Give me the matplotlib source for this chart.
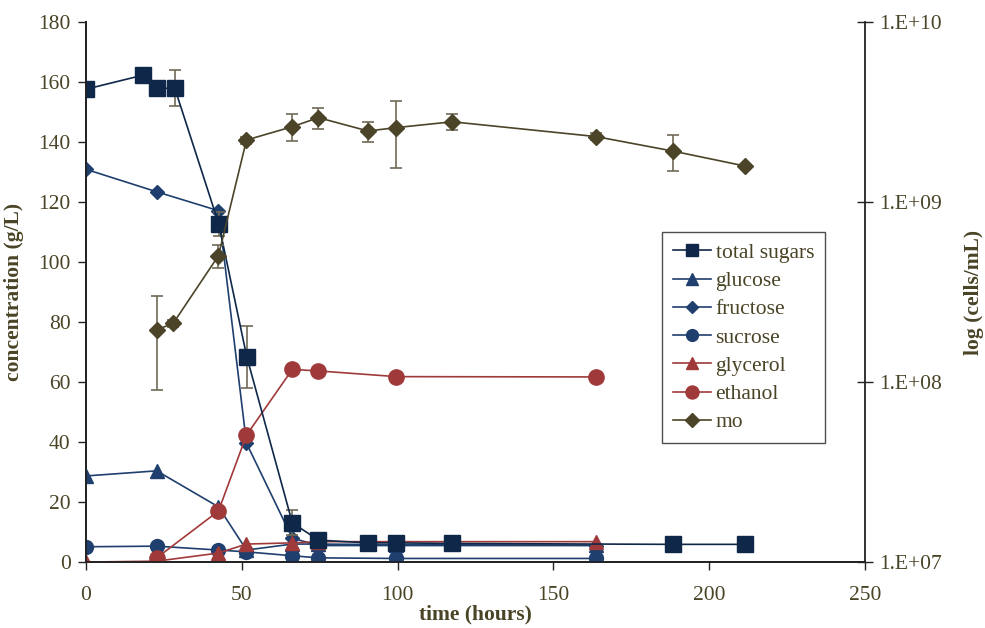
import math
import matplotlib
matplotlib.use("Agg")
import matplotlib.pyplot as plt
from matplotlib.ticker import FixedLocator, FuncFormatter, NullLocator

plt.rcParams["font.family"] = ["Liberation Serif", "DejaVu Serif"]

# sampling times (hours)
t_sugar = [0, 18.4, 22.7, 28.5, 42.6, 51.6, 66.2, 74.6, 90.5, 99.6, 117.5, 188.2, 211.4]
total_sugars = [157.6, 162.3, 157.9, 157.9, 112.7, 68.4, 13.1, 7.3, 6.4, 6.4, 6.2, 5.9, 5.9]
total_sugars_err = [0, 0, 0, 6.0, 4.0, 10.3, 4.2, 0, 0, 0, 0, 0, 0]

t_main = [0, 22.7, 42.5, 51.5, 66.2, 74.6, 99.6, 163.6]
glucose = [28.7, 30.4, 18.4, 4.0, 6.0, 6.0, 5.8, 5.6]
fructose = [130.9, 123.4, 117.1, 39.6, 8.0, 5.5, 5.5, 5.5]
sucrose = [5.1, 5.3, 4.0, 3.4, 2.1, 1.4, 1.2, 1.2]
glycerol = [0.0, 0.3, 3.0, 6.0, 6.4, 6.8, 6.8, 6.8]

t_ethanol = [22.7, 42.5, 51.5, 66.2, 74.6, 99.6, 163.6]
ethanol = [1.4, 17.0, 42.3, 64.2, 63.7, 61.8, 61.7]

# microorganism counts (cells/mL)
t_mo = [22.7, 28.0, 42.5, 51.5, 66.2, 74.6, 90.5, 99.6, 117.5, 163.6, 188.2, 211.4]
mo = [1.95e8, 2.12e8, 5.03e8, 2.21e9, 2.62e9, 2.94e9, 2.48e9, 2.59e9, 2.79e9, 2.31e9, 1.92e9, 1.585e9]
mo_err = [1.05e8, 1.0e7, 7.5e7, 1.0e8, 4.5e8, 3.9e8, 3.2e8, 1.05e9, 2.8e8, 1.0e8, 4.3e8, 0]

text_col = "#4a4426"
navy = "#0f2748"
blue = "#1f3f6e"
red = "#a03a3a"
olive = "#4b4429"
err_col = "#706a55"

fig = plt.figure(figsize=(9.85, 6.28), dpi=100)
ax = fig.add_axes([0.0873, 0.105, 0.7910, 0.860])
ax2 = ax.twinx()

sugars = ax.errorbar(t_sugar, total_sugars, yerr=total_sugars_err, color=navy, ecolor=err_col,
                     elinewidth=1.2, capsize=4, capthick=1.2, lw=1.2, marker="s", ms=11,
                     zorder=5)
l_glu, = ax.plot(t_main, glucose, color=blue, lw=1.2, marker="^", ms=10, zorder=4)
l_fru, = ax.plot(t_main, fructose, color=blue, lw=1.2, marker="D", ms=7, zorder=4)
l_suc, = ax.plot(t_main, sucrose, color=blue, lw=1.2, marker="o", ms=10, zorder=4)
l_gly, = ax.plot(t_main, glycerol, color=red, lw=1.2, marker="^", ms=10, zorder=4)
l_eth, = ax.plot(t_ethanol, ethanol, color=red, lw=1.2, marker="o", ms=11, zorder=4)

mo_line = ax2.errorbar(t_mo, mo, yerr=mo_err, color=olive, ecolor=err_col,
                       elinewidth=1.2, capsize=4, capthick=1.2, lw=1.2, marker="D", ms=8)

ax.set_xlim(0, 250)
ax.set_ylim(0, 180)
ax.set_xticks(range(0, 251, 50))
ax.set_yticks(range(0, 181, 20))
ax2.set_yscale("log")
ax2.set_ylim(1e7, 1e10)
ax2.yaxis.set_major_locator(FixedLocator([1e7, 1e8, 1e9, 1e10]))
ax2.yaxis.set_minor_locator(NullLocator())
ax2.yaxis.set_major_formatter(FuncFormatter(lambda v, p: "1.E+%02d" % round(math.log10(v))))

for a in (ax, ax2):
    a.spines["top"].set_visible(False)
    for s in a.spines.values():
        s.set_color("#222222")
        s.set_linewidth(1.3)
ax.spines["right"].set_visible(False)

ax.tick_params(axis="both", direction="out", length=6, width=1, colors="#222222",
               labelcolor=text_col, labelsize=15.5, pad=5)
ax.tick_params(axis="x", pad=11)
ax2.tick_params(axis="y", direction="inout", length=12, width=1, colors="#222222",
                labelcolor=text_col, labelsize=15.5, pad=4)

ax.set_xlabel("time (hours)", fontsize=15.5, fontweight="bold", color=text_col, labelpad=0)
ax.set_ylabel("concentration (g/L)", fontsize=15.5, fontweight="bold", color=text_col, labelpad=10)
ax2.set_ylabel("log (cells/mL)", fontsize=15.5, fontweight="bold", color=text_col, labelpad=16)

handles = [sugars[0], l_glu, l_fru, l_suc, l_gly, l_eth, mo_line[0]]
labels = ["total sugars", "glucose", "fructose", "sucrose", "glycerol", "ethanol", "mo"]
leg = ax.legend(handles, labels, loc="upper left", bbox_to_anchor=(0.739, 0.611),
                borderaxespad=0, fontsize=15.5, frameon=True, fancybox=False,
                edgecolor="#222222", handlelength=1.8, handletextpad=0.2,
                labelspacing=0.38, borderpad=0.5, markerscale=0.85, labelcolor=text_col)
leg.get_frame().set_linewidth(1.0)
leg.set_zorder(10)

fig.savefig("out.png", dpi=100)
